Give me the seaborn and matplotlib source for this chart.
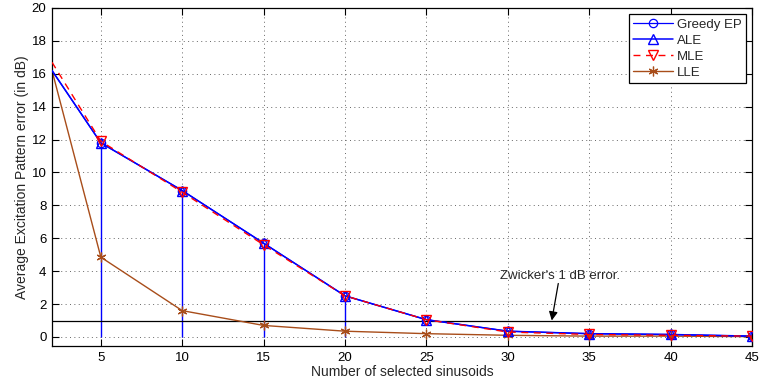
import numpy as np
import pandas as pd
import matplotlib
matplotlib.use("Agg")
import matplotlib.pyplot as plt
from matplotlib.lines import Line2D
import seaborn as sns

# Number of selected sinusoids
n_sinusoids = [2, 5, 10, 15, 20, 25, 30, 35, 40, 45]

# Average excitation pattern error (dB) per method
greedy_ep = [16.2, 11.8, 8.9, 5.7, 2.5, 1.05, 0.35, 0.2, 0.15, 0.05]
ale       = [16.2, 11.8, 8.9, 5.7, 2.5, 1.05, 0.35, 0.2, 0.15, 0.05]
mle       = [16.7, 11.9, 8.8, 5.6, 2.5, 1.05, 0.30, 0.15, 0.10, 0.05]
lle       = [16.2, 4.85, 1.6, 0.7, 0.35, 0.2, 0.10, 0.05, 0.05, 0.02]

stem_x = [5, 10, 15, 20]
threshold_db = 1.0

x_ticks = [5, 10, 15, 20, 25, 30, 35, 40, 45]
y_ticks = list(range(0, 21, 2))

sns.set_style("ticks")
plt.rcParams["font.family"] = ["Liberation Sans", "DejaVu Sans"]
plt.rcParams["font.size"] = 9.5

df = pd.DataFrame({
    "n": n_sinusoids,
    "Greedy EP": greedy_ep,
    "ALE": ale,
    "MLE": mle,
    "LLE": lle,
})

fig = plt.figure(figsize=(7.59, 3.88), dpi=100)
ax = fig.add_axes([52 / 759, 1 - 346 / 388, (752 - 52) / 759, (346 - 8) / 388])

brown = (0.66, 0.30, 0.10)

styles = {
    "Greedy EP": dict(color="blue", lw=0.9, ls="-", marker="o", ms=6, mew=0.9, mfc="none", z=3),
    "ALE": dict(color="blue", lw=1.1, ls="-", marker="^", ms=7, mew=1.0, mfc="none", z=4),
    "MLE": dict(color="red", lw=1.0, ls=(0, (5, 4)), marker="v", ms=7, mew=1.0, mfc="none", z=4),
    "LLE": dict(color=brown, lw=1.0, ls="-", marker=(6, 2, 0), ms=7, mew=0.9, mfc=brown, z=2),
}

# vertical stems at the first few sample counts
stem_vals = [greedy_ep[n_sinusoids.index(s)] for s in stem_x]
ax.vlines(stem_x, 0, stem_vals, color="blue", lw=1.0, zorder=1)

# Zwicker's 1 dB reference
ax.axhline(threshold_db, color="black", lw=0.9, zorder=1)

marked = df[df["n"] >= 5]
handles = []
for name, st in styles.items():
    # curve over the full range
    sns.lineplot(data=df, x="n", y=name, ax=ax, color=st["color"], lw=st["lw"],
                 linestyle=st["ls"], zorder=st["z"], legend=False)
    # markers only at the evaluated sample counts
    sns.lineplot(data=marked, x="n", y=name, ax=ax, color=st["color"], lw=0,
                 marker=st["marker"], markersize=st["ms"], markerfacecolor=st["mfc"],
                 markeredgecolor=st["color"], markeredgewidth=st["mew"],
                 zorder=st["z"], legend=False)
    handles.append(Line2D([], [], color=st["color"], lw=st["lw"], linestyle=st["ls"],
                          marker=st["marker"], markersize=st["ms"],
                          markerfacecolor=st["mfc"], markeredgecolor=st["color"],
                          markeredgewidth=st["mew"], label=name))

ax.set_xlim(2, 45)
ax.set_ylim(-0.55, 20)
ax.set_xticks(x_ticks)
ax.set_yticks(y_ticks)
ax.grid(True, linestyle=(0, (1, 3.5)), color="0.4", lw=0.7)
ax.tick_params(direction="in", length=5, width=0.8, top=True, right=True,
               labelsize=9.5, pad=4, colors="black")
for sp in ax.spines.values():
    sp.set_visible(True)
    sp.set_linewidth(0.9)
    sp.set_color("black")

ax.set_xlabel("Number of selected sinusoids", fontsize=10, labelpad=1)
ax.set_ylabel("Average Excitation Pattern error (in dB)", fontsize=10, labelpad=2)

ax.text(29.5, 3.5, "Zwicker's 1 dB error.", fontsize=9.5, ha="left", va="baseline")
ax.annotate("", xy=(32.7, threshold_db), xytext=(33.1, 3.25),
            arrowprops=dict(arrowstyle="-|>", color="black", lw=0.9,
                            mutation_scale=13, shrinkA=0, shrinkB=0))

leg = ax.legend(handles=handles, loc="upper right", frameon=True, fancybox=False,
                fontsize=9.5, borderaxespad=0.45, handlelength=3.0,
                labelspacing=0.28, handletextpad=0.3, borderpad=0.35)
leg.get_frame().set_edgecolor("black")
leg.get_frame().set_linewidth(0.9)
leg.get_frame().set_alpha(1)
leg.set_zorder(10)

fig.savefig("out.png", dpi=100)
